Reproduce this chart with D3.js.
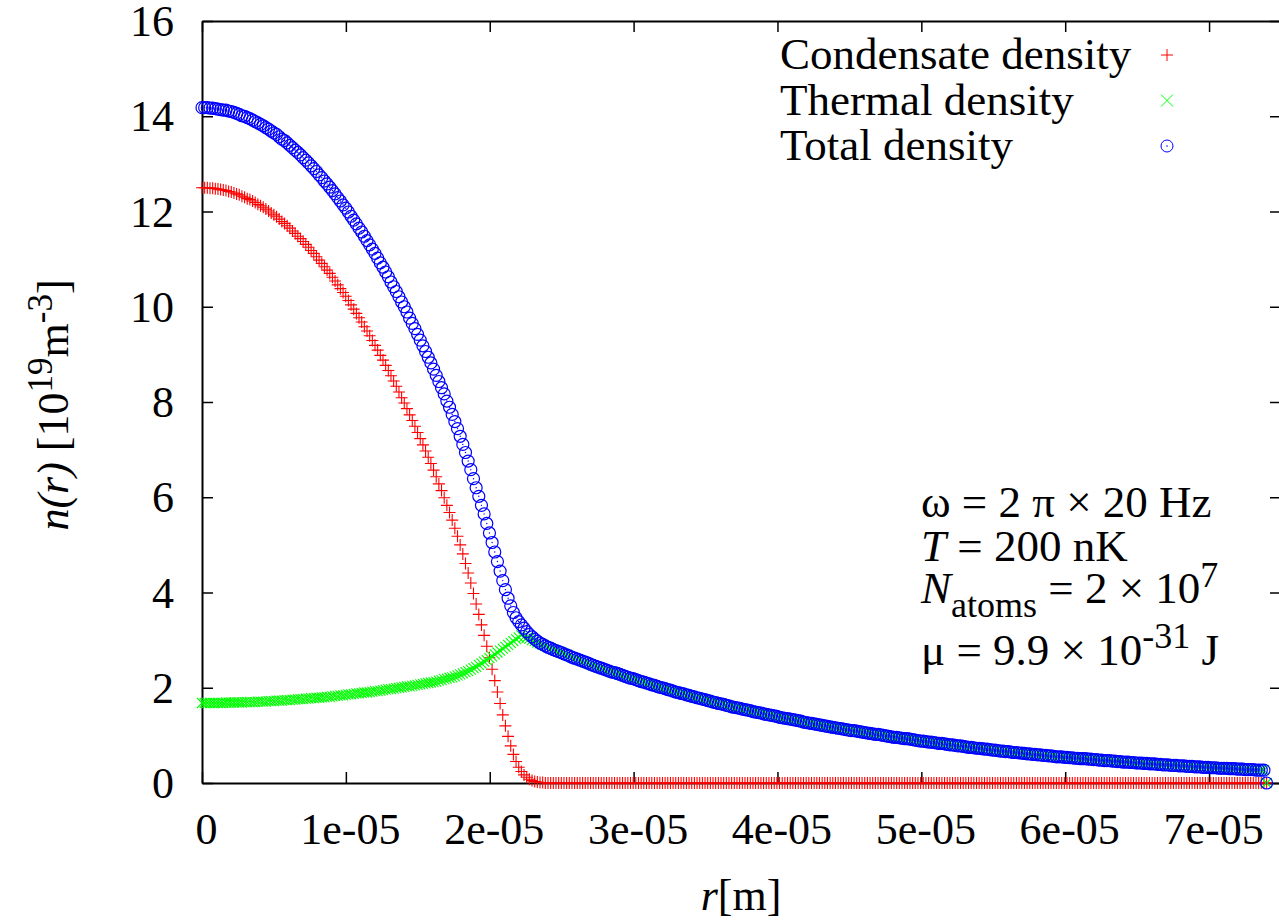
<!DOCTYPE html>
<html>
<head>
<meta charset="utf-8">
<script src="https://cdn.jsdelivr.net/npm/d3@7"></script>
<style>
body { margin: 0; background: white; }
text { font-family: "Liberation Serif", "Times New Roman", serif; }
</style>
</head>
<body>
<script>
let width = 1279;
let height = 923;

// radial grid step (m), one point every step from r = 0
let rStep = 1.85e-7;

// condensate density [1e19 m^-3]
let condensate = [
	12.50,12.50,12.50,12.49,12.49,12.48,12.47,12.46,12.45,12.44,
	12.42,12.41,12.39,12.37,12.35,12.32,12.30,12.27,12.25,12.22,
	12.19,12.15,12.12,12.09,12.05,12.01,11.97,11.93,11.89,11.84,
	11.79,11.75,11.70,11.65,11.59,11.54,11.48,11.43,11.37,11.31,
	11.25,11.18,11.12,11.05,10.98,10.91,10.84,10.77,10.70,10.62,
	10.54,10.46,10.38,10.30,10.22,10.13,10.04,9.95,9.86,9.77,
	9.68,9.58,9.49,9.39,9.29,9.19,9.09,8.98,8.88,8.77,
	8.66,8.55,8.44,8.33,8.21,8.09,7.98,7.86,7.73,7.61,
	7.49,7.36,7.23,7.10,6.97,6.84,6.71,6.57,6.43,6.28,
	6.14,5.99,5.83,5.68,5.52,5.35,5.18,5.00,4.81,4.61,
	4.41,4.20,3.98,3.76,3.54,3.32,3.10,2.87,2.63,2.39,
	2.15,1.91,1.67,1.43,1.20,0.98,0.78,0.60,0.45,0.33,
	0.24,0.17,0.12,0.08,0.05,0.03,0.02,0.01,0.01,0,
	0,0,0,0,0,0,0,0,0,0, 0,0,0,0,0,0,0,0,0,0, 0,0,0,0,0,0,0,0,0,0,
	0,0,0,0,0,0,0,0,0,0, 0,0,0,0,0,0,0,0,0,0, 0,0,0,0,0,0,0,0,0,0,
	0,0,0,0,0,0,0,0,0,0, 0,0,0,0,0,0,0,0,0,0, 0,0,0,0,0,0,0,0,0,0,
	0,0,0,0,0,0,0,0,0,0, 0,0,0,0,0,0,0,0,0,0, 0,0,0,0,0,0,0,0,0,0,
	0,0,0,0,0,0,0,0,0,0, 0,0,0,0,0,0,0,0,0,0, 0,0,0,0,0,0,0,0,0,0,
	0,0,0,0,0,0,0,0,0,0, 0,0,0,0,0,0,0,0,0,0, 0,0,0,0,0,0,0,0,0,0,
	0,0,0,0,0,0,0,0,0,0, 0,0,0,0,0,0,0,0,0,0, 0,0,0,0,0,0,0,0,0,0,
	0,0,0,0,0,0,0,0,0,0, 0,0,0,0,0,0,0,0,0,0, 0,0,0,0,0,0,0,0,0,0,
	0,0,0,0,0,0,0,0,0,0, 0,0,0,0,0,0,0,0,0,0, 0,0,0,0,0,0,0,0,0,0,
	0
];

// thermal density [1e19 m^-3]
let thermal = [
	1.68,1.68,1.68,1.68,1.68,1.68,1.68,1.68,1.68,1.69,
	1.69,1.69,1.69,1.69,1.69,1.69,1.70,1.70,1.70,1.70,
	1.70,1.71,1.71,1.71,1.71,1.72,1.72,1.72,1.73,1.73,
	1.73,1.74,1.74,1.74,1.75,1.75,1.76,1.76,1.76,1.77,
	1.77,1.78,1.78,1.79,1.79,1.80,1.80,1.81,1.81,1.82,
	1.83,1.83,1.84,1.84,1.85,1.86,1.86,1.87,1.88,1.88,
	1.89,1.90,1.90,1.91,1.92,1.93,1.93,1.94,1.95,1.96,
	1.97,1.97,1.98,1.99,2.00,2.01,2.02,2.03,2.03,2.04,
	2.05,2.06,2.07,2.08,2.09,2.10,2.11,2.12,2.13,2.15,
	2.16,2.18,2.19,2.21,2.22,2.24,2.26,2.28,2.30,2.33,
	2.35,2.38,2.41,2.44,2.48,2.51,2.55,2.58,2.62,2.66,
	2.70,2.74,2.78,2.82,2.86,2.90,2.94,2.98,3.02,3.06,
	3.10,3.07,3.05,3.03,3.00,2.98,2.95,2.93,2.90,2.88,
	2.85,2.83,2.80,2.78,2.76,2.74,2.71,2.69,2.67,2.64,
	2.62,2.60,2.58,2.56,2.54,2.52,2.49,2.47,2.45,2.43,
	2.41,2.39,2.37,2.35,2.33,2.32,2.30,2.28,2.26,2.24,
	2.22,2.20,2.19,2.17,2.15,2.13,2.12,2.10,2.08,2.06,
	2.05,2.03,2.01,2.00,1.98,1.96,1.95,1.93,1.91,1.90,
	1.88,1.87,1.85,1.84,1.82,1.81,1.79,1.78,1.76,1.75,
	1.73,1.72,1.70,1.69,1.67,1.66,1.65,1.63,1.62,1.60,
	1.59,1.58,1.57,1.55,1.54,1.53,1.52,1.50,1.49,1.48,
	1.47,1.45,1.44,1.43,1.42,1.41,1.40,1.38,1.37,1.36,
	1.35,1.34,1.33,1.32,1.31,1.30,1.28,1.27,1.26,1.25,
	1.24,1.23,1.22,1.21,1.20,1.19,1.18,1.17,1.16,1.15,
	1.14,1.13,1.12,1.11,1.10,1.10,1.09,1.08,1.07,1.06,
	1.05,1.04,1.03,1.02,1.02,1.01,1.00,0.99,0.98,0.97,
	0.96,0.96,0.95,0.94,0.93,0.93,0.92,0.91,0.90,0.89,
	0.88,0.88,0.87,0.86,0.86,0.85,0.84,0.83,0.83,0.82,
	0.81,0.80,0.80,0.79,0.78,0.78,0.77,0.76,0.75,0.75,
	0.74,0.73,0.73,0.72,0.71,0.71,0.70,0.69,0.69,0.68,
	0.67,0.67,0.66,0.66,0.65,0.64,0.64,0.63,0.63,0.62,
	0.61,0.61,0.60,0.60,0.59,0.59,0.58,0.58,0.57,0.57,
	0.56,0.55,0.55,0.55,0.54,0.54,0.53,0.53,0.52,0.52,
	0.51,0.51,0.51,0.50,0.50,0.49,0.49,0.48,0.48,0.47,
	0.47,0.47,0.46,0.46,0.45,0.45,0.44,0.44,0.44,0.43,
	0.43,0.42,0.42,0.42,0.41,0.41,0.40,0.40,0.40,0.39,
	0.39,0.38,0.38,0.38,0.37,0.37,0.37,0.36,0.36,0.36,
	0.35,0.35,0.35,0.34,0.34,0.34,0.33,0.33,0.33,0.32,
	0.32,0.32,0.31,0.31,0.31,0.31,0.30,0.30,0.30,0.29,
	0.29,0.29,0.28,0.28,0.28,0.28,0.27,0.27,0.27,0.27,
	0
];

// total density [1e19 m^-3]
let total = [
	14.18,14.18,14.18,14.17,14.17,14.16,14.15,14.14,14.13,14.13,
	14.11,14.10,14.08,14.06,14.04,14.01,14.00,13.97,13.95,13.92,
	13.89,13.86,13.83,13.80,13.76,13.73,13.69,13.65,13.62,13.57,
	13.52,13.49,13.44,13.39,13.34,13.29,13.24,13.19,13.13,13.08,
	13.02,12.96,12.90,12.84,12.77,12.71,12.64,12.58,12.51,12.44,
	12.37,12.29,12.22,12.14,12.07,11.99,11.90,11.82,11.74,11.65,
	11.57,11.48,11.39,11.30,11.21,11.12,11.02,10.92,10.83,10.73,
	10.63,10.52,10.42,10.32,10.21,10.10,10.00,9.89,9.76,9.65,
	9.54,9.42,9.30,9.18,9.06,8.94,8.82,8.69,8.56,8.43,
	8.30,8.17,8.02,7.89,7.74,7.59,7.44,7.28,7.11,6.94,
	6.76,6.58,6.39,6.20,6.02,5.83,5.65,5.45,5.25,5.05,
	4.85,4.65,4.45,4.25,4.06,3.88,3.72,3.58,3.47,3.39,
	3.32,3.25,3.18,3.12,3.07,3.02,2.98,2.94,2.91,2.88,
	2.85,2.83,2.80,2.78,2.76,2.74,2.71,2.69,2.67,2.64,
	2.62,2.60,2.58,2.56,2.54,2.52,2.49,2.47,2.45,2.43,
	2.41,2.39,2.37,2.35,2.33,2.32,2.30,2.28,2.26,2.24,
	2.22,2.20,2.19,2.17,2.15,2.13,2.12,2.10,2.08,2.06,
	2.05,2.03,2.01,2.00,1.98,1.96,1.95,1.93,1.91,1.90,
	1.88,1.87,1.85,1.84,1.82,1.81,1.79,1.78,1.76,1.75,
	1.73,1.72,1.70,1.69,1.67,1.66,1.65,1.63,1.62,1.60,
	1.59,1.58,1.57,1.55,1.54,1.53,1.52,1.50,1.49,1.48,
	1.47,1.45,1.44,1.43,1.42,1.41,1.40,1.38,1.37,1.36,
	1.35,1.34,1.33,1.32,1.31,1.30,1.28,1.27,1.26,1.25,
	1.24,1.23,1.22,1.21,1.20,1.19,1.18,1.17,1.16,1.15,
	1.14,1.13,1.12,1.11,1.10,1.10,1.09,1.08,1.07,1.06,
	1.05,1.04,1.03,1.02,1.02,1.01,1.00,0.99,0.98,0.97,
	0.96,0.96,0.95,0.94,0.93,0.93,0.92,0.91,0.90,0.89,
	0.88,0.88,0.87,0.86,0.86,0.85,0.84,0.83,0.83,0.82,
	0.81,0.80,0.80,0.79,0.78,0.78,0.77,0.76,0.75,0.75,
	0.74,0.73,0.73,0.72,0.71,0.71,0.70,0.69,0.69,0.68,
	0.67,0.67,0.66,0.66,0.65,0.64,0.64,0.63,0.63,0.62,
	0.61,0.61,0.60,0.60,0.59,0.59,0.58,0.58,0.57,0.57,
	0.56,0.55,0.55,0.55,0.54,0.54,0.53,0.53,0.52,0.52,
	0.51,0.51,0.51,0.50,0.50,0.49,0.49,0.48,0.48,0.47,
	0.47,0.47,0.46,0.46,0.45,0.45,0.44,0.44,0.44,0.43,
	0.43,0.42,0.42,0.42,0.41,0.41,0.40,0.40,0.40,0.39,
	0.39,0.38,0.38,0.38,0.37,0.37,0.37,0.36,0.36,0.36,
	0.35,0.35,0.35,0.34,0.34,0.34,0.33,0.33,0.33,0.32,
	0.32,0.32,0.31,0.31,0.31,0.31,0.30,0.30,0.30,0.29,
	0.29,0.29,0.28,0.28,0.28,0.28,0.27,0.27,0.27,0.27,
	0
];

let xTicks = [0, 1e-5, 2e-5, 3e-5, 4e-5, 5e-5, 6e-5, 7e-5];
let xTickLabels = ["0", "1e-05", "2e-05", "3e-05", "4e-05", "5e-05", "6e-05", "7e-05"];
let yTicks = [0, 2, 4, 6, 8, 10, 12, 14, 16];
let seriesNames = ["Condensate density", "Thermal density", "Total density"];
let seriesColors = ["#ff0000", "#00ff00", "#0000ff"];

let svg = d3.select("body")
	.append("svg")
	.attr("width", width)
	.attr("height", height)
	.style("background-color", "white");

let x = d3.scaleLinear().domain([0, 7.5e-5]).range([202, 1281]);
let y = d3.scaleLinear().domain([0, 16]).range([783, 21]);

/*---------------- axes / border ----------------*/

function styleAxis(g) {
	g.attr("font-family", null).attr("font-size", null);
	g.select(".domain").attr("stroke", "#000").attr("stroke-width", 2);
	g.selectAll(".tick line").attr("stroke", "#000").attr("stroke-width", 1.5);
	g.selectAll(".tick text")
		.style("font-family", '"Liberation Serif", "Times New Roman", serif')
		.style("font-size", "44px")
		.attr("fill", "#000");
}

let xAxis = svg.append("g")
	.attr("transform", "translate(0,783)")
	.call(d3.axisBottom(x).tickValues(xTicks)
		.tickFormat(function(d, i){ return xTickLabels[i]; })
		.tickSizeInner(-11).tickSizeOuter(0))
	.call(styleAxis);
xAxis.selectAll(".tick text").attr("y", 61).attr("dy", null).attr("dx", 4);

svg.append("g")
	.attr("transform", "translate(0,21)")
	.call(d3.axisTop(x).tickValues(xTicks).tickFormat("")
		.tickSizeInner(-11).tickSizeOuter(0))
	.call(styleAxis);

let yAxis = svg.append("g")
	.attr("transform", "translate(202,0)")
	.call(d3.axisLeft(y).tickValues(yTicks)
		.tickSizeInner(-11).tickSizeOuter(0))
	.call(styleAxis);
yAxis.selectAll(".tick text").attr("x", -28).attr("dy", "0.33em");

svg.append("g")
	.attr("transform", "translate(1281,0)")
	.call(d3.axisRight(y).tickValues(yTicks).tickFormat("")
		.tickSizeInner(-11).tickSizeOuter(0))
	.call(styleAxis);

/*---------------- points ----------------*/

let plusPath = "M-6,0H6M0,-6V6";
let crossPath = "M-5,-5L5,5M-5,5L5,-5";

svg.append("g").selectAll("path")
	.data(condensate)
	.enter().append("path")
	.attr("transform", function(d, i){ return "translate(" + x(i * rStep) + "," + y(d) + ")"; })
	.attr("d", plusPath)
	.attr("fill", "none")
	.attr("stroke", seriesColors[0])
	.attr("stroke-width", 1.1);

svg.append("g").selectAll("path")
	.data(thermal)
	.enter().append("path")
	.attr("transform", function(d, i){ return "translate(" + x(i * rStep) + "," + y(d) + ")"; })
	.attr("d", crossPath)
	.attr("fill", "none")
	.attr("stroke", seriesColors[1])
	.attr("stroke-width", 1.1);

let circles = svg.append("g").selectAll("g")
	.data(total)
	.enter().append("g")
	.attr("transform", function(d, i){ return "translate(" + x(i * rStep) + "," + y(d) + ")"; });
circles.append("circle").attr("r", 6).attr("fill", "none")
	.attr("stroke", seriesColors[2]).attr("stroke-width", 1.2);
circles.append("circle").attr("r", 0.7).attr("fill", seriesColors[2]);

/*---------------- legend ----------------*/

let legend = svg.append("g").selectAll("g")
	.data(seriesNames)
	.enter().append("g")
	.attr("transform", function(d, i){ return "translate(0," + (55 + i * 45.5) + ")"; });

legend.append("text")
	.attr("x", 780)
	.attr("y", 14)
	.style("font-size", "45px")
	.text(function(d){ return d; });

legend.each(function(d, i) {
	let g = d3.select(this).append("g").attr("transform", "translate(1167,0)");
	if (i === 0) {
		g.append("path").attr("d", "M-6,0H6M0,-6V6").attr("stroke", seriesColors[0]).attr("stroke-width", 1);
	} else if (i === 1) {
		g.append("path").attr("d", "M-6,-6L6,6M-6,6L6,-6").attr("stroke", seriesColors[1]).attr("stroke-width", 1);
	} else {
		g.append("circle").attr("r", 6).attr("fill", "none").attr("stroke", seriesColors[2]).attr("stroke-width", 1);
		g.append("circle").attr("r", 0.8).attr("fill", seriesColors[2]);
	}
});

/*---------------- labels ----------------*/

let xTitle = svg.append("text")
	.attr("x", 741)
	.attr("y", 910)
	.attr("text-anchor", "middle")
	.style("font-size", "44px");
xTitle.append("tspan").style("font-style", "italic").text("r");
xTitle.append("tspan").text("[m]");

let yTitle = svg.append("text")
	.attr("transform", "translate(68,405) rotate(-90)")
	.attr("text-anchor", "middle")
	.style("font-size", "44px");
yTitle.append("tspan").style("font-style", "italic").text("n(r)");
yTitle.append("tspan").text(" [10");
yTitle.append("tspan").attr("dy", -16).style("font-size", "35px").text("19");
yTitle.append("tspan").attr("dy", 16).text("m");
yTitle.append("tspan").attr("dy", -16).style("font-size", "35px").text("-3");
yTitle.append("tspan").attr("dy", 16).text("]");

let info = svg.append("g").style("font-size", "45px");

info.append("text").attr("x", 921).attr("y", 517).text("ω = 2 π × 20 Hz");

let t2 = info.append("text").attr("x", 921).attr("y", 561);
t2.append("tspan").style("font-style", "italic").text("T");
t2.append("tspan").text(" = 200 nK");

let t3 = info.append("text").attr("x", 921).attr("y", 603);
t3.append("tspan").style("font-style", "italic").text("N");
t3.append("tspan").attr("dy", 14).style("font-size", "36px").text("atoms");
t3.append("tspan").attr("dy", -14).text(" = 2 × 10");
t3.append("tspan").attr("dy", -16).style("font-size", "36px").text("7");

let t4 = info.append("text").attr("x", 921).attr("y", 665);
t4.append("tspan").text("μ = 9.9 × 10");
t4.append("tspan").attr("dy", -17).style("font-size", "36px").text("-31");
t4.append("tspan").attr("dy", 17).text(" J");
</script>
</body>
</html>
